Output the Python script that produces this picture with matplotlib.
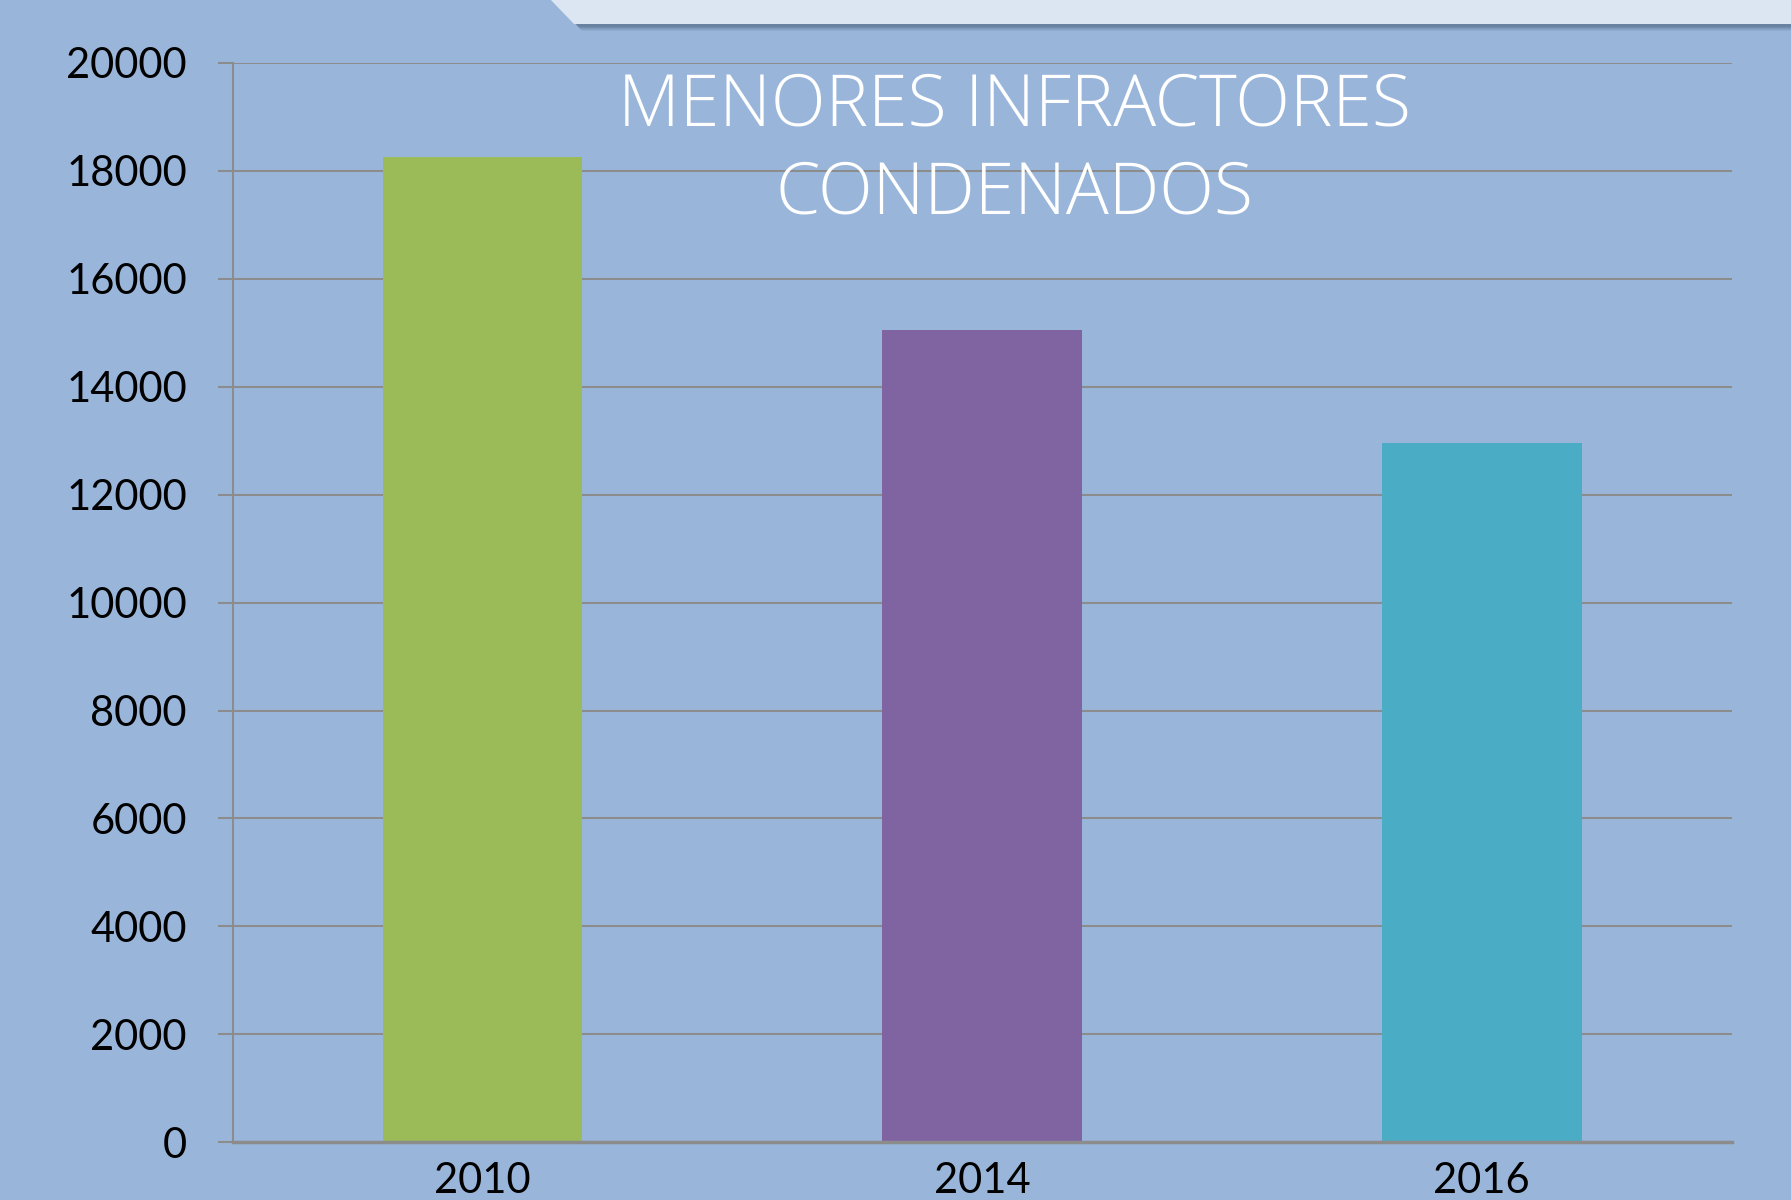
import matplotlib.pyplot as plt
from matplotlib.patches import Polygon

# ── Data ─────────────────────────────────────────────
years = ["2010", "2014", "2016"]
condenados = [18250, 15050, 12950]
bar_colors = ["#9BBB59", "#8064A2", "#4BACC6"]
y_ticks = list(range(0, 20001, 2000))
title_lines = ["MENORES INFRACTORES", "CONDENADOS"]

BG = "#99B6DA"
GRID = "#8C8C8C"

plt.rcParams["font.family"] = ["Lato", "DejaVu Sans"]

fig = plt.figure(figsize=(17.91, 12.0), dpi=100, facecolor=BG)
ax = fig.add_axes([0.1299, 0.0481, 0.8369, 0.8994])
ax.set_facecolor(BG)

x = range(len(years))
ax.bar(x, condenados, width=0.4, color=bar_colors, zorder=3)

ax.set_xlim(-0.5, 2.5)
ax.set_ylim(0, 20000)
ax.set_yticks(y_ticks)
ax.set_yticklabels([str(v) for v in y_ticks])
ax.set_xticks(list(x))
ax.set_xticklabels(years)
ax.grid(True, axis="y", color=GRID, linewidth=1.5, zorder=0)

for side in ["top", "right"]:
    ax.spines[side].set_visible(False)
ax.spines["left"].set_color(GRID)
ax.spines["left"].set_linewidth(1.5)
ax.spines["bottom"].set_color(GRID)
ax.spines["bottom"].set_linewidth(2.5)
ax.spines["bottom"].set_zorder(4)

ax.tick_params(axis="y", colors=GRID, length=11, width=1.5, pad=22,
               labelsize=30, labelcolor="black")
ax.tick_params(axis="x", length=0, pad=14, labelsize=30, labelcolor="black")

# title, two lines, white light font
for txt, ypx in zip(title_lines, [107, 195]):
    fig.text(1014 / 1791, 1 - ypx / 1200, txt, ha="center", va="center",
             fontsize=51.5, family=["Open Sans", "DejaVu Sans"], fontweight=300,
             color="white", zorder=5)

# ── Decorative top panel with shadow ─────────────────
W, H = 1791, 1200
def fx(px):
    return px / W
def fy(py):
    return 1 - py / H

for i, a in enumerate([0.10, 0.10, 0.12, 0.15, 0.2]):
    off = 6 - i
    shadow = Polygon([(fx(551 + off), fy(-2)), (fx(576 + off), fy(25 + off)),
                      (fx(W + 5), fy(25 + off)), (fx(W + 5), fy(-2))],
                     closed=True, transform=fig.transFigure,
                     facecolor="#3E5570", edgecolor="none", alpha=a)
    fig.patches.append(shadow)
panel = Polygon([(fx(549), fy(-2)), (fx(574), fy(24)), (fx(W + 5), fy(24)),
                 (fx(W + 5), fy(-2))], closed=True, transform=fig.transFigure,
                facecolor="#DCE6F2", edgecolor="none")
fig.patches.append(panel)

fig.savefig("out.png", dpi=100, facecolor=BG)
